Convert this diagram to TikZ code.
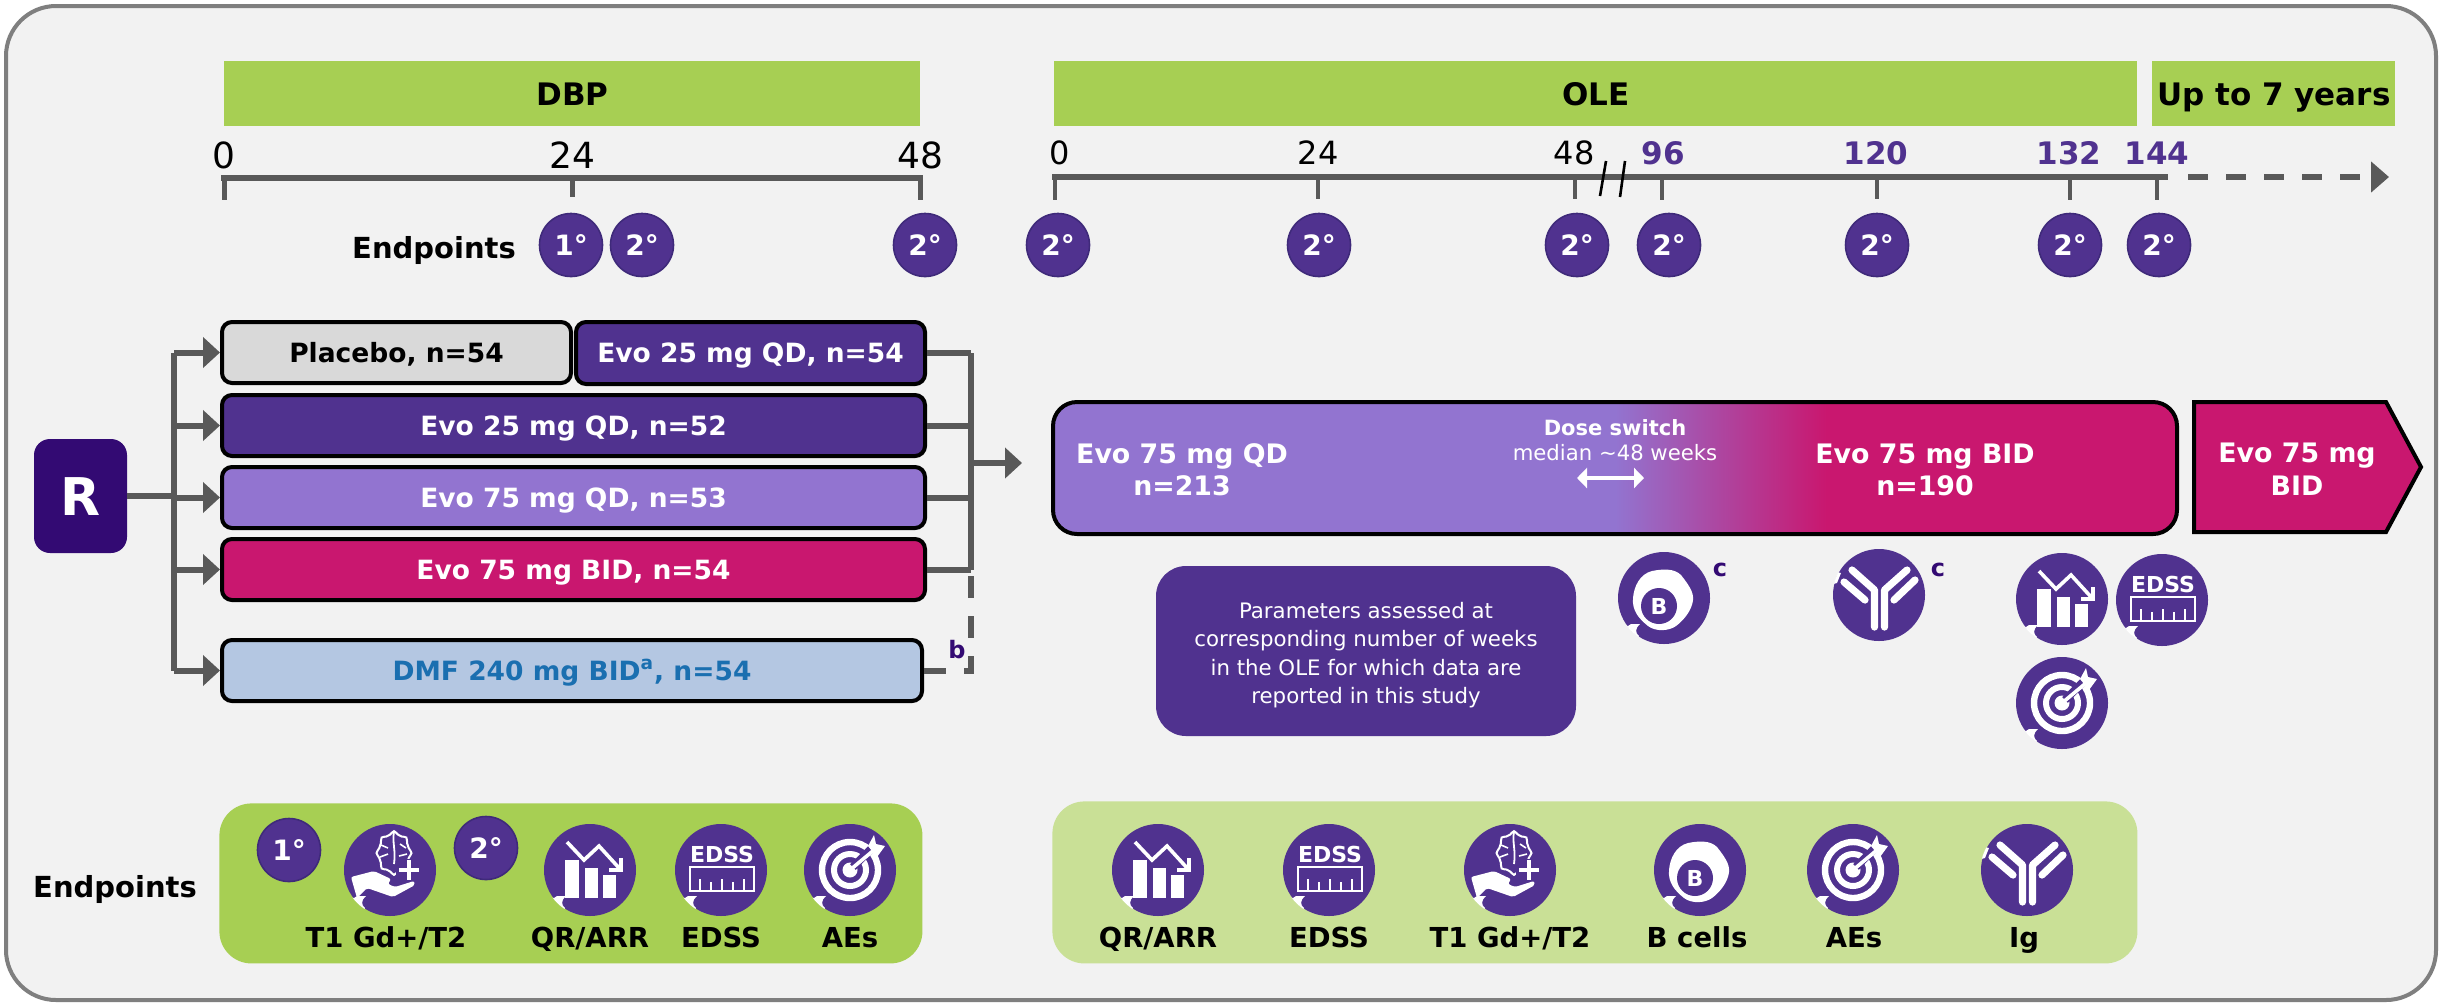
\documentclass[tikz,border=0pt]{standalone}
\usepackage{fontspec}
\setmainfont{DejaVu Sans}
\usetikzlibrary{arrows.meta}
\definecolor{bgc}{HTML}{F2F2F2}
\definecolor{framec}{HTML}{7F7F7F}
\definecolor{lime}{HTML}{A7CF53}
\definecolor{limel}{HTML}{C9E096}
\definecolor{purp}{HTML}{50328F}
\definecolor{purpe}{HTML}{3F2A7A}
\definecolor{dark}{HTML}{330A73}
\definecolor{lilac}{HTML}{9274D0}
\definecolor{mag}{HTML}{C9176F}
\definecolor{gry}{HTML}{595959}
\definecolor{plac}{HTML}{D9D9D9}
\definecolor{dmfc}{HTML}{B4C7E2}
\definecolor{dmft}{HTML}{1A6FB0}
\pgfdeclarehorizontalshading{doseshade}{100bp}{color(0bp)=(lilac); color(50bp)=(lilac); color(59.4bp)=(mag); color(100bp)=(mag)}
\newcommand{\px}[1]{\fontsize{\dimexpr #1pt/2\relax}{\dimexpr #1pt*6/10\relax}\selectfont}
\tikzset{
  x=0.5pt,y=-0.5pt,
  barc/.style={fill=lime,inner sep=0,text=black,font=\px{31}\bfseries,text height=11.5pt,text depth=0pt},
  armbox/.style={draw=black,line width=2pt,rounded corners=5pt,inner sep=0,anchor=north west,text height=9.5pt,text depth=0pt,font=\px{26.5}\bfseries},
  axl/.style={inner sep=0,text=black,font=\px{32},text height=11.5pt,text depth=0pt},
  axlb/.style={inner sep=0,text=purp,font=\px{31}\bfseries,text height=11pt,text depth=0pt},
  axlbig/.style={inner sep=0,text=black,font=\px{36},text height=13pt,text depth=0pt},
  ep/.style={circle,fill=purp,draw=purpe,line width=0.8pt,minimum size=31.5pt,inner sep=0,text=white,font=\px{28}\bfseries,text height=10pt,text depth=0pt},
  lbl/.style={inner sep=0,text=black,font=\px{27.5}\bfseries,text height=10pt,text depth=0pt},
  wht/.style={inner sep=0,text=white,font=\px{26.8}\bfseries,text height=10pt,text depth=0pt},
  conn/.style={draw=gry,line width=3pt},
  arr/.style={draw=gry,line width=3pt,-{Triangle[length=8.5pt,width=15pt]}},
  tick/.style={draw=gry,line width=2pt},
  axisl/.style={draw=gry,line width=3pt},
  ln/.style={draw=white,line cap=round,line join=round},
  pics/notch/.style={code={
    \begin{scope}
      \clip (0,0) circle[radius=46.5];
      \fill[white] (-47,20) .. controls (-42,28) and (-36,30) .. (-33,26) -- (-24,26) .. controls (-29,30) and (-29,35) .. (-25,38) -- (-30,48) -- (-50,40) -- cycle;
    \end{scope}
  }},
  pics/chart/.style={code={
    \fill[purp] (0,0) circle[radius=46];
    \fill[white] (-25,-10) rectangle (-11,28);
    \fill[white] (-5,-2) rectangle (8,28);
    \fill[white] (13,5) rectangle (26,28);
    \draw[ln,line width=1.8pt,line cap=butt,line join=miter] (-23,-28) -- (-6,-10) -- (9,-24) -- (30,-1);
    \draw[ln,line width=1.8pt,line cap=butt,line join=miter] (31,-12) -- (31,0) -- (19,0);
    \pic {notch};
  }},
  pics/edss/.style={code={
    \fill[purp] (0,0) circle[radius=46];
    \node[inner sep=0,text=white,font=\px{22}\bfseries] (t) at (1,-16) {EDSS};
    \draw[white,line width=1.3pt] (-31,-3) rectangle (33,21);
    \foreach \xx/\yy in {-21/9,-10/12,1/9,12/12,23/9}{\draw[white,line width=1.3pt] (\xx,21) -- (\xx,\yy);}
    \pic {notch};
  }},
  pics/target/.style={code={
    \fill[purp] (0,0) circle[radius=46];
    \draw[white,line width=3.2pt] (0,0) circle[radius=28];
    \draw[white,line width=3pt] (0,0) circle[radius=16];
    \fill[white] (0,0) circle[radius=7.5];
    \draw[purp,line width=4pt] (3,-3) -- (30,-30);
    \draw[white,line width=1.8pt] (0,0) -- (24,-20);
    \fill[white] (18,-24) -- (24,-35) -- (26,-26) -- (35,-24) -- (27,-13) -- cycle;
    \pic {notch};
  }},
  pics/brainhand/.style={code={
    \fill[purp] (0,0) circle[radius=46];
    \draw[white,line width=1pt] plot[smooth cycle,samples=24,domain=0:345,variable=\t] ({4+(16+1.5*cos(8*\t))*cos(\t)},{-17+1.25*(16+1.5*cos(8*\t))*sin(\t)});
    \draw[white,line width=0.9pt] (4,-38) .. controls (2,-28) and (6,-20) .. (4,-6);
    \draw[white,line width=0.8pt] (-9,-25) -- (-2,-22) (-10,-13) -- (-2,-16) (10,-26) -- (16,-22) (9,-14) -- (17,-16);
    \fill[purp] (6,-11) rectangle (32,13);
    \draw[white,line width=1.8pt] (9,0) -- (29,0) (19,-10) -- (19,10);
    \fill[white,rounded corners=1pt] (-39,7) -- (-16,1) -- (1,9) -- (-2,14) -- (5,17) -- (24,11) -- (25,15) -- (3,27) -- (-23,18) -- (-33,28) -- cycle;
    \pic {notch};
  }},
  pics/bcell/.style={code={
    \fill[purp] (0,0) circle[radius=46];
    \fill[white] (-12,-27) .. controls (-2,-29) and (10,-30) .. (17,-23) .. controls (24,-14) and (30,-6) .. (29,2) .. controls (28,12) and (20,22) .. (12,28) .. controls (5,33) and (-8,34) .. (-16,28) .. controls (-26,20) and (-32,12) .. (-31,0) .. controls (-30,-12) and (-24,-24) .. (-12,-27) -- cycle;
    \node[circle,fill=purp,minimum size=18pt,inner sep=0,text=white,font=\px{22}\bfseries] (t) at (-5,8) {B};
    \pic {notch};
  }},
  pics/antib/.style={code={
    \fill[purp] (0,0) circle[radius=46];
    \draw[ln,line width=3.6pt] (-4.5,32) -- (-4.5,-5) -- (-27,-25);
    \draw[ln,line width=3.6pt] (5.5,32) -- (5.5,-5) -- (28,-25);
    \draw[ln,line width=3.6pt] (-35,-13) -- (-14,5);
    \draw[ln,line width=3.6pt] (36,-15) -- (15,5);
    \begin{scope}
      \clip (0,0) circle[radius=46.5];
      \fill[white] (-47,-24) -- (-38,-22) -- (-42,-12) -- (-50,-10) -- cycle;
    \end{scope}
  }},
}
\begin{document}
\begin{tikzpicture}
\useasboundingbox (0,0) rectangle (2440,1003);
\fill[white] (0,0) rectangle (2440,1003);
\draw[draw=framec,fill=bgc,line width=2pt,rounded corners=25pt] (6,6) rectangle (2436,1000);

% header bars
\node[barc,minimum width=348pt,minimum height=32.5pt,anchor=north west] (dbp) at (224,61) {DBP};
\node[barc,minimum width=541.5pt,minimum height=32.5pt,anchor=north west] (ole) at (1054,61) {OLE};
\node[barc,minimum width=121.5pt,minimum height=32.5pt,anchor=north west] (up7) at (2152,61) {Up to 7 years};

% DBP axis
\node[axlbig] (l0) at (224,155) {0};
\node[axlbig] (l24) at (572,155) {24};
\node[axlbig] (l48) at (920,155) {48};
\coordinate (da) at (224,178); \coordinate (db) at (572,178); \coordinate (dc) at (920,178);
\draw[axisl,line cap=butt] ([xshift=-1.5pt]da) -- ([xshift=1.5pt]dc);
\draw[tick,line width=2.5pt] (da) -- ++(0,22);
\draw[tick,line width=2.5pt] (db) -- ++(0,19);
\draw[tick,line width=2.5pt] (dc) -- ++(0,22);
\node[lbl,font=\px{29}\bfseries] (epa) at (434,248) {Endpoints};
\node[ep] (e1) at (571,245) {1°};
\node[ep] (e2) at (642,245) {2°};
\node[ep] (e3) at (925,245) {2°};

% OLE axis
\node[axl] (o0) at (1060,153) {0};
\node[axl] (o24) at (1318,153) {24};
\node[axl] (o48) at (1574,153) {48};
\node[axlb] (o96) at (1663,153) {96};
\node[axlb] (o120) at (1876,153) {120};
\node[axlb] (o132) at (2069,153) {132};
\node[axlb] (o144) at (2157,153) {144};
\coordinate (ax0) at (1052,177); \coordinate (ax1) at (2168,177); \coordinate (ax2) at (2389,177);
\draw[axisl] (ax0) -- (ax1);
\draw[draw=gry,line width=3pt,dash pattern=on 10pt off 9pt,-{Triangle[length=9pt,width=15pt]}] (2188,177) -- (ax2);
\foreach \xx/\yy in {1055/200,1318/199,1575/199,1662/200,1877/199,2070/200,2157/200}{\draw[tick] (\xx,177) -- (\xx,\yy);}
\draw[black,line width=1.3pt] (1606,161) -- (1600,196);
\draw[black,line width=1.3pt] (1625,161) -- (1620,197);
\node[ep] (f0) at (1058,245) {2°};
\node[ep] (f1) at (1319,245) {2°};
\node[ep] (f2) at (1577,245) {2°};
\node[ep] (f3) at (1669,245) {2°};
\node[ep] (f4) at (1877,245) {2°};
\node[ep] (f5) at (2070,245) {2°};
\node[ep] (f6) at (2159,245) {2°};

% Arms
\node[armbox,fill=plac,text=black,minimum width=174.5pt,minimum height=30.5pt] (a1) at (220,320) {Placebo, n=54};
\node[armbox,fill=purp,text=white,minimum width=174.5pt,minimum height=31pt] (a1b) at (574,320) {Evo 25 mg QD, n=54};
\node[armbox,fill=purp,text=white,minimum width=351.5pt,minimum height=30.5pt] (a2) at (220,393) {Evo 25 mg QD, n=52};
\node[armbox,fill=lilac,text=white,minimum width=351.5pt,minimum height=30.5pt] (a3) at (220,465) {Evo 75 mg QD, n=53};
\node[armbox,fill=mag,text=white,minimum width=351.5pt,minimum height=30.5pt] (a4) at (220,537) {Evo 75 mg BID, n=54};
\node[armbox,fill=dmfc,text=dmft,minimum width=350pt,minimum height=30.5pt] (a5) at (220,638) {DMF 240 mg BID\textsuperscript{a}, n=54};
\node[fill=dark,rounded corners=8pt,minimum width=46.5pt,minimum height=57pt,inner sep=0,text=white,font=\px{52}\bfseries,text height=19pt,text depth=0pt] (r) at (80.5,496) {R};

% left connectors
\coordinate (bl) at (174,496);
\draw[conn] (r.east) -- (bl);
\draw[conn] (bl|-a1.west) -- (bl|-a5.west);
\foreach \n in {a1,a2,a3,a4,a5}{\draw[arr] (bl|-\n.west) -- (\n.west);}

% right connectors
\coordinate (br) at (971,463);
\coordinate (outp) at (1022,463);
\draw[conn] (br|-a1b.east) -- (br|-a4.east);
\foreach \n in {a1b,a2,a3,a4}{\draw[conn] (\n.east) -- (br|-\n.east);}
\draw[draw=gry,line width=3pt,dash pattern=on 11pt off 9pt] (a5.east) -- (br|-a5.east) -- (br|-a4.east);
\draw[arr] (br) -- (outp);
\node[inner sep=0,text=dark,font=\px{24}\bfseries] (bb) at (957,650) {b};

% OLE bar
\node[draw=black,line width=2pt,rounded corners=12pt,shading=doseshade,minimum width=562pt,minimum height=66pt,inner sep=0,anchor=north west] (oleb) at (1051,400) {};
\node[wht] (t1) at (1182,453) {Evo 75 mg QD};
\node[wht] (t2) at (1182,485) {n=213};
\node[wht] (t3) at (1925,453) {Evo 75 mg BID};
\node[wht] (t4) at (1925,485) {n=190};
\node[inner sep=0,text=white,font=\px{21}\bfseries] (t5) at (1615,428) {Dose switch};
\node[inner sep=0,text=white,font=\px{21.2}] (t6) at (1615,453) {median \textasciitilde 48 weeks};
\coordinate (dl) at (1577,478); \coordinate (dr) at (1644,478);
\draw[draw=white,line width=1.8pt,{Triangle[length=5pt,width=10pt]}-{Triangle[length=5pt,width=10pt]}] (dl) -- (dr);
\draw[draw=black,fill=mag,line width=2pt,line join=miter] (2194,402) -- (2386,402) -- (2421,467) -- (2386,532) -- (2194,532) -- cycle;
\node[wht] (t7) at (2297,452) {Evo 75 mg};
\node[wht] (t8) at (2297,485) {BID};

% parameter box
\node[fill=purp,rounded corners=15pt,minimum width=210pt,minimum height=85pt,inner sep=0] (par) at (1366,651) {};
\node[inner sep=0,text=white,align=center,font=\px{21.3}] (part) at (1366,655) {Parameters assessed at\\[1.4pt]corresponding number of weeks\\[1.4pt]in the OLE for which data are\\[1.4pt]reported in this study};

% mid icons
\pic (mb) at (1664,598) {bcell};
\pic (mi) at (1879,595) {antib};
\pic (mq) at (2062,599) {chart};
\pic (me) at (2162,600) {edss};
\pic (mt) at (2062,703) {target};
\node[inner sep=0,text=dark,font=\px{24}\bfseries] (c1) at (1720,570) {c};
\node[inner sep=0,text=dark,font=\px{24}\bfseries] (c2) at (1938,570) {c};

% Endpoint panels
\node[lbl,font=\px{29}\bfseries] (epb) at (115,887) {Endpoints};
\node[fill=lime,rounded corners=16pt,minimum width=351.5pt,minimum height=80pt,inner sep=0,anchor=north west] (p1) at (219,803) {};
\node[fill=limel,rounded corners=16pt,minimum width=542.5pt,minimum height=81pt,inner sep=0,anchor=north west] (p2) at (1052,801) {};

\node[ep] (g1) at (289,850) {1°};
\node[ep] (g2) at (486,848) {2°};
\pic (p1a) at (390,870) {brainhand};
\pic (p1b) at (590,870) {chart};
\pic (p1c) at (721,870) {edss};
\pic (p1d) at (850,870) {target};
\node[lbl] (n1) at (386,937) {T1 Gd+/T2};
\node[lbl] (n2) at (590,937) {QR/ARR};
\node[lbl] (n3) at (721,937) {EDSS};
\node[lbl] (n4) at (850,937) {AEs};

\pic (p2a) at (1158,870) {chart};
\pic (p2b) at (1329,870) {edss};
\pic (p2c) at (1510,870) {brainhand};
\pic (p2d) at (1700,870) {bcell};
\pic (p2e) at (1853,870) {target};
\pic (p2f) at (2027,870) {antib};
\node[lbl] (m1) at (1158,937) {QR/ARR};
\node[lbl] (m2) at (1329,937) {EDSS};
\node[lbl] (m3) at (1510,937) {T1 Gd+/T2};
\node[lbl] (m4) at (1697,937) {B cells};
\node[lbl] (m5) at (1854,937) {AEs};
\node[lbl] (m6) at (2024,937) {Ig};
\end{tikzpicture}
\end{document}
